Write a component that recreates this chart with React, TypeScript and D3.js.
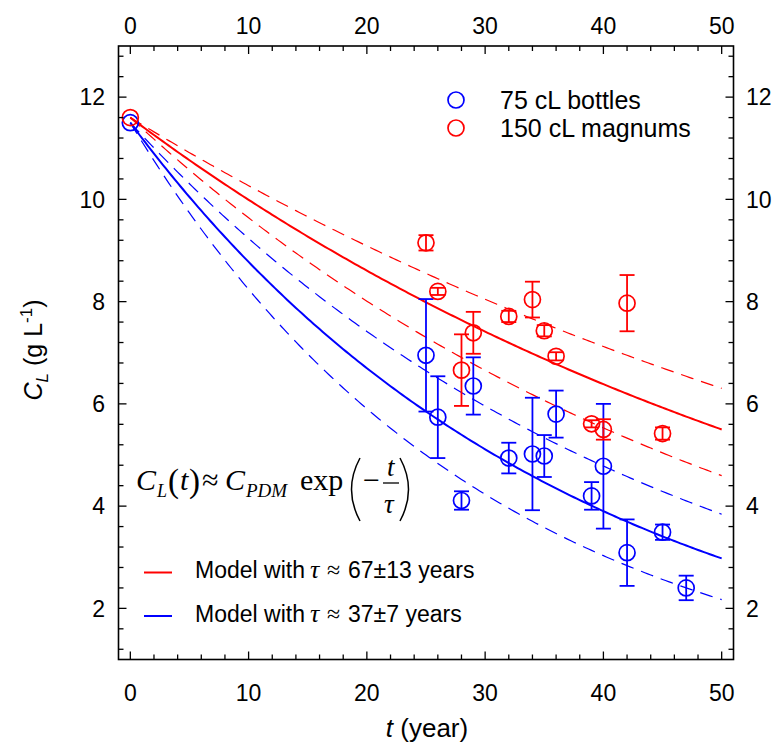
import React from 'react';
import * as d3 from 'd3';

const W = 778;
const H = 751;

// tick labels
const xTickValues = [0, 10, 20, 30, 40, 50];
const yTickValues = [2, 4, 6, 8, 10, 12];

// 75 cL bottles (blue)
const bottleT = [0, 25, 26, 28, 29, 32, 34, 35, 36, 39, 40, 42, 45, 47];
const bottleC = [11.5, 6.95, 5.74, 4.11, 6.35, 4.94, 5.02, 4.98, 5.80, 4.20, 4.78, 3.09, 3.49, 2.40];
const bottleErr = [0, 1.1, 0.8, 0.18, 0.56, 0.3, 1.1, 0.41, 0.46, 0.27, 1.22, 0.65, 0.15, 0.24];

// 150 cL magnums (red)
const magnumT = [0, 25, 26, 28, 29, 32, 34, 35, 36, 39, 40, 42, 45];
const magnumC = [11.6, 9.15, 8.2, 6.66, 7.39, 7.71, 8.04, 7.43, 6.93, 5.61, 5.5, 7.97, 5.42];
const magnumErr = [0, 0.15, 0.07, 0.7, 0.41, 0.11, 0.35, 0.11, 0.08, 0.07, 0.2, 0.55, 0.12];

// model parameters: C_PDM and tau (central, upper, lower)
const redC0 = 11.6;
const redTaus = [67, 82, 54];
const blueC0 = 11.5;
const blueTaus = [37, 45.6, 30];

const RED = '#ff0000';
const BLUE = '#0000ff';
const SANS = 'Liberation Sans, Arial, Helvetica, sans-serif';
const SERIF = 'Liberation Serif, Times New Roman, serif';

export default function App() {
  const x = d3.scaleLinear().domain([-1, 51]).range([118.5, 733.5]);
  const y = d3.scaleLinear().domain([1, 13]).range([659.5, 46]);
  const [x0, x1] = x.range();
  const [yb, yt] = y.range();

  const tGrid = d3.range(0, 50.0001, 0.25);
  const modelPath = (c0: number, tau: number) =>
    d3.line<number>().x((t) => x(t)).y((t) => y(c0 * Math.exp(-t / tau)))(tGrid) || '';

  const xMinor = d3.range(0, 26).map((i) => i * 2);
  const yMinor = d3.range(3, 33).map((i) => +(i * 0.4).toFixed(2));
  const isMajorY = (v: number) => Math.abs(v - Math.round(v)) < 1e-6 && Math.round(v) % 2 === 0;

  const cap = 7.5;
  const r = 8;

  const series = [
    { t: bottleT, c: bottleC, e: bottleErr, color: BLUE },
    { t: magnumT, c: magnumC, e: magnumErr, color: RED },
  ];

  return (
    <svg width={W} height={H} style={{ position: 'absolute', left: 0, top: 0, background: '#fff' }}>
      <rect x={0} y={0} width={W} height={H} fill="#fff" />

      {/* model curves */}
      <path d={modelPath(redC0, redTaus[1])} fill="none" stroke={RED} strokeWidth={1.2} strokeDasharray="13,8" />
      <path d={modelPath(redC0, redTaus[2])} fill="none" stroke={RED} strokeWidth={1.2} strokeDasharray="13,8" />
      <path d={modelPath(blueC0, blueTaus[1])} fill="none" stroke={BLUE} strokeWidth={1.2} strokeDasharray="13,8" />
      <path d={modelPath(blueC0, blueTaus[2])} fill="none" stroke={BLUE} strokeWidth={1.2} strokeDasharray="13,8" />
      <path d={modelPath(redC0, redTaus[0])} fill="none" stroke={RED} strokeWidth={2} />
      <path d={modelPath(blueC0, blueTaus[0])} fill="none" stroke={BLUE} strokeWidth={2} />

      {/* data points with error bars */}
      {series.map((s, si) => (
        <g key={si}>
          {s.t.map((t, i) => {
            const cx = x(t);
            const cy = y(s.c[i]);
            const e = s.e[i];
            return (
              <g key={i}>
                {e > 0 && (
                  <g stroke={s.color} strokeWidth={1.8}>
                    <line x1={cx} x2={cx} y1={y(s.c[i] + e)} y2={y(s.c[i] - e)} />
                    <line x1={cx - cap} x2={cx + cap} y1={y(s.c[i] + e)} y2={y(s.c[i] + e)} />
                    <line x1={cx - cap} x2={cx + cap} y1={y(s.c[i] - e)} y2={y(s.c[i] - e)} />
                  </g>
                )}
                <circle cx={cx} cy={cy} r={r} fill="none" stroke={s.color} strokeWidth={1.7} />
              </g>
            );
          })}
        </g>
      ))}

      {/* frame */}
      <rect x={x0} y={yt} width={x1 - x0} height={yb - yt} fill="none" stroke="#000" strokeWidth={1.6} />

      {/* x ticks (bottom & top, inward) */}
      {xMinor.map((v) => {
        const len = v % 10 === 0 ? 8 : 5;
        return (
          <g key={'xt' + v} stroke="#000" strokeWidth={1.3}>
            <line x1={x(v)} x2={x(v)} y1={yb} y2={yb - len} />
            <line x1={x(v)} x2={x(v)} y1={yt} y2={yt + len} />
          </g>
        );
      })}
      {/* y ticks (left & right, inward) */}
      {yMinor.map((v) => {
        const len = isMajorY(v) ? 8 : 5;
        return (
          <g key={'yt' + v} stroke="#000" strokeWidth={1.3}>
            <line x1={x0} x2={x0 + len} y1={y(v)} y2={y(v)} />
            <line x1={x1} x2={x1 - len} y1={y(v)} y2={y(v)} />
          </g>
        );
      })}

      {/* tick labels */}
      <g fontFamily={SANS} fontSize={23} fill="#000">
        {xTickValues.map((v) => (
          <g key={'xl' + v}>
            <text x={x(v)} y={701} textAnchor="middle">{v}</text>
            <text x={x(v)} y={34} textAnchor="middle">{v}</text>
          </g>
        ))}
        {yTickValues.map((v) => (
          <g key={'yl' + v}>
            <text x={105} y={y(v) + 8.3} textAnchor="end">{v}</text>
            <text x={746} y={y(v) + 8.3} textAnchor="start">{v}</text>
          </g>
        ))}
      </g>

      {/* axis titles */}
      <text x={427} y={737} textAnchor="middle" fontFamily={SANS} fontSize={26}>
        <tspan fontStyle="italic">t</tspan>
        <tspan> (year)</tspan>
      </text>
      <text
        transform="translate(42,350) rotate(-90)"
        textAnchor="middle"
        fontFamily={SANS}
        fontSize={25}
      >
        <tspan fontStyle="italic">C</tspan>
        <tspan fontStyle="italic" fontSize={17} dy={6}>L</tspan>
        <tspan dy={-6}> (g L</tspan>
        <tspan fontSize={17} dy={-10}>-1</tspan>
        <tspan dy={10}>)</tspan>
      </text>

      {/* data legend */}
      <circle cx={456} cy={100} r={r} fill="none" stroke={BLUE} strokeWidth={1.7} />
      <circle cx={456} cy={128} r={r} fill="none" stroke={RED} strokeWidth={1.7} />
      <g fontFamily={SANS} fontSize={25} fill="#000">
        <text x={500} y={109}>75 cL bottles</text>
        <text x={500} y={137}>150 cL magnums</text>
      </g>

      {/* formula */}
      <g fontFamily={SERIF} fill="#000">
        <text x={136} y={490} fontSize={30} fontStyle="italic">C</text>
        <text x={157} y={497} fontSize={18} fontStyle="italic">L</text>
        <text x={168} y={492} fontSize={33}>(</text>
        <text x={180} y={490} fontSize={30} fontStyle="italic">t</text>
        <text x={189} y={492} fontSize={33}>)</text>
        <text x={202} y={490} fontSize={30}>≈</text>
        <text x={225} y={490} fontSize={30} fontStyle="italic">C</text>
        <text x={246} y={497} fontSize={19} fontStyle="italic">PDM</text>
        <text x={300} y={490} fontSize={30}>exp</text>
        <path d="M360,458 Q343,489.5 360,521" fill="none" stroke="#000" strokeWidth={1.5} />
        <text x={363} y={490} fontSize={30}>−</text>
        <text x={387} y={476} fontSize={27} fontStyle="italic">t</text>
        <line x1={383} x2={399} y1={483} y2={483} stroke="#000" strokeWidth={1.3} />
        <text x={384} y={513} fontSize={27} fontStyle="italic">τ</text>
        <path d="M400,458 Q417,489.5 400,521" fill="none" stroke="#000" strokeWidth={1.5} />
      </g>

      {/* model legend */}
      <line x1={144} x2={172} y1={572.5} y2={572.5} stroke={RED} strokeWidth={2} />
      <line x1={144} x2={172} y1={616} y2={616} stroke={BLUE} strokeWidth={2} />
      <g fontFamily={SANS} fontSize={23} fill="#000">
        <text x={195} y={578}>Model with</text>
        <text x={310} y={578} fontFamily={SERIF} fontStyle="italic" fontSize={26}>τ</text>
        <text x={327} y={578} fontFamily={SERIF} fontSize={24}>≈</text>
        <text x={348} y={578}>67±13 years</text>
        <text x={195} y={622}>Model with</text>
        <text x={310} y={622} fontFamily={SERIF} fontStyle="italic" fontSize={26}>τ</text>
        <text x={327} y={622} fontFamily={SERIF} fontSize={24}>≈</text>
        <text x={348} y={622}>37±7 years</text>
      </g>
    </svg>
  );
}
